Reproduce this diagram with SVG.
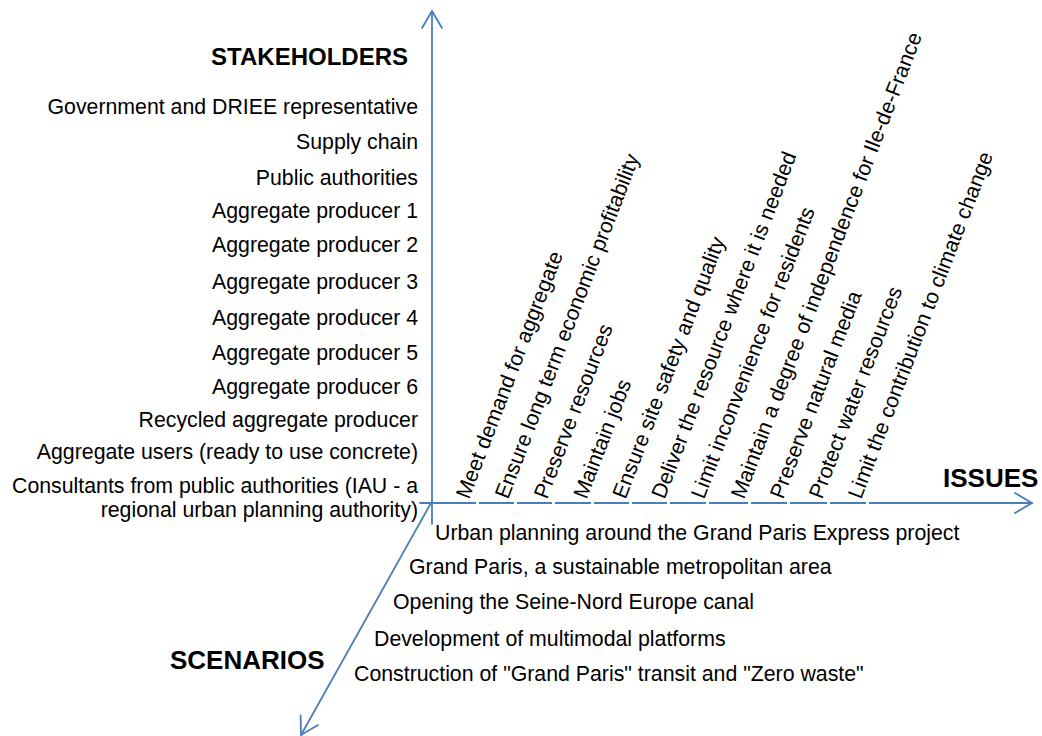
<svg xmlns="http://www.w3.org/2000/svg" width="1042" height="736" viewBox="0 0 1042 736">
<style>
.t{font-family:"Liberation Sans",Arial,sans-serif;font-size:21.3px;fill:#000}
.r{text-anchor:end}
.h{font-family:"Liberation Sans",Arial,sans-serif;font-weight:bold;fill:#000}
.ax{stroke:#4A7EBB;stroke-width:1.8;fill:none;stroke-linecap:round;stroke-linejoin:round}
</style>
<rect width="1042" height="736" fill="#fff"/>
<g id="axes">
<line class="ax" x1="432" y1="11" x2="432" y2="524"/>
<polyline class="ax" points="422,28 432,11 442,28"/>
<line class="ax" x1="420" y1="503" x2="1032" y2="503"/>
<polyline class="ax" points="1015,493 1032,503 1015,513"/>
<line class="ax" x1="431" y1="503" x2="301" y2="735"/>
<polyline class="ax" points="300.6,715.3 301,735 318,725"/>
<g fill="#fff">
<rect x="476" y="501" width="3" height="4"/>
<rect x="514" y="501" width="3" height="4"/>
<rect x="552" y="501" width="3" height="4"/>
<rect x="591" y="501" width="3" height="4"/>
<rect x="629" y="501" width="3" height="4"/>
<rect x="667" y="501" width="3" height="4"/>
<rect x="706" y="501" width="3" height="4"/>
<rect x="748" y="501" width="3" height="4"/>
<rect x="787" y="501" width="3" height="4"/>
<rect x="827" y="501" width="3" height="4"/>
<rect x="866" y="501" width="3" height="4"/>
</g>
</g>
<g id="stakeholders">
<text class="h" x="408" y="65" font-size="24" text-anchor="end">STAKEHOLDERS</text>
<text class="t r" x="418" y="114">Government and DRIEE representative</text>
<text class="t r" x="418" y="149">Supply chain</text>
<text class="t r" x="418" y="185">Public authorities</text>
<text class="t r" x="418" y="218">Aggregate producer 1</text>
<text class="t r" x="418" y="252">Aggregate producer 2</text>
<text class="t r" x="418" y="289">Aggregate producer 3</text>
<text class="t r" x="418" y="325">Aggregate producer 4</text>
<text class="t r" x="418" y="360">Aggregate producer 5</text>
<text class="t r" x="418" y="394">Aggregate producer 6</text>
<text class="t r" x="418" y="427">Recycled aggregate producer</text>
<text class="t r" x="418" y="459">Aggregate users (ready to use concrete)</text>
<text class="t r" x="418" y="493">Consultants from public authorities (IAU - a</text>
<text class="t r" x="418" y="517">regional urban planning authority)</text>
</g>
<g id="issues">
<text class="h" x="943" y="487" font-size="26">ISSUES</text>
<text class="t" transform="translate(469,500) rotate(-69)">Meet demand for aggregate</text>
<text class="t" transform="translate(508,500) rotate(-69)">Ensure long term economic profitability</text>
<text class="t" transform="translate(547,500) rotate(-69)">Preserve resources</text>
<text class="t" transform="translate(586.5,500) rotate(-69)">Maintain jobs</text>
<text class="t" transform="translate(625.5,500) rotate(-69)">Ensure site safety and quality</text>
<text class="t" transform="translate(664.5,500) rotate(-69)">Deliver the resource where it is needed</text>
<text class="t" transform="translate(704,500) rotate(-69)">Limit inconvenience for residents</text>
<text class="t" transform="translate(744,500) rotate(-69)">Maintain a degree of independence for Ile-de-France</text>
<text class="t" transform="translate(783,500) rotate(-69)">Preserve natural media</text>
<text class="t" transform="translate(822,500) rotate(-69)">Protect water resources</text>
<text class="t" transform="translate(861,500) rotate(-69)">Limit the contribution to climate change</text>
</g>
<g id="scenarios">
<text class="h" x="170" y="669" font-size="26">SCENARIOS</text>
<text class="t" x="435" y="540">Urban planning around the Grand Paris Express project</text>
<text class="t" x="409" y="574">Grand Paris, a sustainable metropolitan area</text>
<text class="t" x="393" y="609">Opening the Seine-Nord Europe canal</text>
<text class="t" x="374" y="646">Development of multimodal platforms</text>
<text class="t" x="354" y="681">Construction of "Grand Paris" transit and "Zero waste"</text>
</g>
</svg>
